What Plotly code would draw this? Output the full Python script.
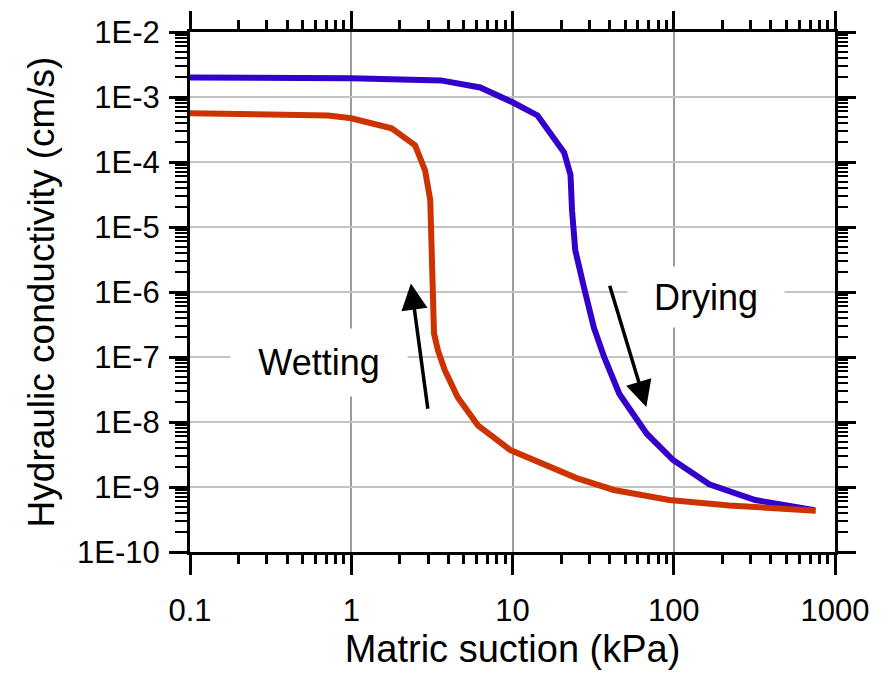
import plotly.graph_objects as go

# Drying curve (blue)
drying_suction = [0.1, 1.0, 3.6, 6.3, 10, 14.3, 20.9, 22.9, 23.4, 24.5, 27.7, 32, 37, 46, 68, 99, 166, 320, 750]
drying_k = [2.0e-3, 1.95e-3, 1.8e-3, 1.4e-3, 8.3e-4, 5.2e-4, 1.4e-4, 6.3e-5, 1.8e-5, 4.4e-6, 1.2e-6,
            2.8e-7, 1.0e-7, 2.7e-8, 6.6e-9, 2.6e-9, 1.1e-9, 6.3e-10, 4.4e-10]

# Wetting curve (red)
wetting_suction = [0.1, 0.72, 1.0, 1.78, 2.49, 2.87, 3.09, 3.12, 3.19, 3.26, 3.45, 3.8, 4.57, 6.1, 9.7,
                   15.6, 25, 42.5, 94, 221, 450, 760]
wetting_k = [5.6e-4, 5.2e-4, 4.7e-4, 3.3e-4, 1.8e-4, 7.4e-5, 2.6e-5, 7.9e-6, 1.35e-6, 2.3e-7, 1.26e-7,
             6.3e-8, 2.4e-8, 8.9e-9, 3.7e-9, 2.2e-9, 1.37e-9, 9.0e-10, 6.3e-10, 5.2e-10, 4.7e-10, 4.3e-10]

x_tickvals = [0.1, 1, 10, 100, 1000]
x_ticktext = ["0.1", "1", "10", "100", "1000"]
y_tickvals = [1e-10, 1e-9, 1e-8, 1e-7, 1e-6, 1e-5, 1e-4, 1e-3, 1e-2]
y_ticktext = ["1E-10", "1E-9", "1E-8", "1E-7", "1E-6", "1E-5", "1E-4", "1E-3", "1E-2"]

# minor tick positions (2..9 within each decade)
x_minor = [m * d for d in x_tickvals[:-1] for m in range(2, 10)]
y_minor = [m * d for d in y_tickvals[:-1] for m in range(2, 10)]

# left axis carries all ticks (labelled majors + unlabelled minors)
y_all_vals = y_tickvals + y_minor
y_all_text = y_ticktext + [""] * len(y_minor)

# Labels and arrows (log10 data coordinates)
label_text = ["Wetting", "Drying"]
label_pos = [(-0.20, -7.08), (2.20, -6.08)]
label_box = [(176, 67), (156, 60)]
arrow_head = [(0.37, -5.87), (1.83, -7.77)]
arrow_tail = [(0.476, -7.82), (1.60, -5.88)]

FONT = "Arial, Liberation Sans, sans-serif"

fig = go.Figure()
fig.add_trace(go.Scatter(x=drying_suction, y=drying_k, mode="lines",
                         line=dict(color="#3300CC", width=6), showlegend=False))
fig.add_trace(go.Scatter(x=wetting_suction, y=wetting_k, mode="lines",
                         line=dict(color="#CC3300", width=6), showlegend=False))
# invisible traces that activate the extra tick-only axes
for xa, ya in [("x2", "y2"), ("x3", "y"), ("x", "y3"), ("x4", "y4")]:
    fig.add_trace(go.Scatter(x=drying_suction, y=drying_k, xaxis=xa, yaxis=ya, mode="lines",
                             line=dict(width=0), opacity=0, hoverinfo="skip", showlegend=False))

for txt, (px, py), (w, h) in zip(label_text, label_pos, label_box):
    fig.add_annotation(x=px, y=py, xref="x", yref="y", text=txt, showarrow=False,
                       font=dict(family=FONT, size=36, color="black"),
                       bgcolor="white", width=w, height=h, borderpad=0)

for (hx, hy), (tx, ty) in zip(arrow_head, arrow_tail):
    fig.add_annotation(x=hx, y=hy, ax=tx, ay=ty, xref="x", yref="y", axref="x", ayref="y",
                       text="", showarrow=True, arrowhead=2, arrowsize=1.5,
                       arrowwidth=3.5, arrowcolor="black")


def tick_axis(kind, vals, side, overlay, anchor, length, width):
    rng = [-1, 3] if kind == "x" else [-10, -2]
    return dict(type="log", range=rng, overlaying=overlay, side=side, anchor=anchor,
                tickmode="array", tickvals=vals, showticklabels=False, showgrid=False,
                showline=False, zeroline=False, ticks="outside", ticklen=length,
                tickwidth=width, tickcolor="black")


yaxis2 = tick_axis("y", y_tickvals, "right", "y", "x", 20, 3)
yaxis2.update(showgrid=True, gridcolor="#c4c4c4", gridwidth=2)

fig.update_layout(
    xaxis=dict(type="log", range=[-1, 3], tickmode="array", tickvals=x_tickvals, ticktext=x_ticktext,
               showline=True, linecolor="black", linewidth=3, mirror=True, zeroline=False,
               showgrid=True, gridcolor="#9a9a9a", gridwidth=2,
               ticks="outside", ticklen=20, tickwidth=3, tickcolor="black",
               ticklabelstandoff=9,
               tickfont=dict(family=FONT, size=31, color="black"),
               title=dict(text="Matric suction (kPa)", font=dict(family=FONT, size=38, color="black"),
                          standoff=5)),
    yaxis=dict(type="log", range=[-10, -2], tickmode="array", tickvals=y_all_vals, ticktext=y_all_text,
               showline=True, linecolor="black", linewidth=3, mirror=True, zeroline=False,
               showgrid=False,
               ticks="outside", ticklen=12, tickwidth=2, tickcolor="black",
               ticklabelstandoff=9,
               tickfont=dict(family=FONT, size=31, color="black"),
               title=dict(text="Hydraulic conductivity (cm/s)",
                          font=dict(family=FONT, size=37, color="black"), standoff=12)),
    # top / right major ticks (right one also carries the horizontal gridlines)
    xaxis2=tick_axis("x", x_tickvals, "top", "x", "y", 20, 3),
    yaxis2=yaxis2,
    # bottom minor ticks, left long major ticks
    xaxis3=tick_axis("x", x_minor, "bottom", "x", "y", 11, 3),
    yaxis3=tick_axis("y", y_tickvals, "left", "y", "x", 20, 3),
    # top / right minor ticks
    xaxis4=tick_axis("x", x_minor, "top", "x", "y", 11, 3),
    yaxis4=tick_axis("y", y_minor, "right", "y", "x", 12, 2),
    width=881, height=683, margin=dict(l=190, r=39, t=31, b=131),
    plot_bgcolor="white", paper_bgcolor="white",
)

fig.write_html("out.html")
